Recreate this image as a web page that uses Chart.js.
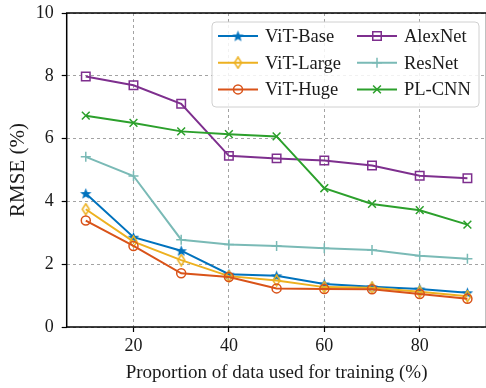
<!DOCTYPE html>
<html>
<head>
<meta charset="utf-8">
<script src="https://cdn.jsdelivr.net/npm/chart.js@4.4.1/dist/chart.umd.min.js"></script>
<style>
  html, body { margin: 0; padding: 0; background: #fff; overflow: hidden; }
  #wrap { width: 486px; height: 388px; overflow: hidden; }
</style>
</head>
<body>
<div id="wrap"><canvas id="chart" width="494" height="388"></canvas></div>
<script>
const proportions = [10, 20, 30, 40, 50, 60, 70, 80, 90];
const xTicks = [20, 40, 60, 80];
const yTicks = [0, 2, 4, 6, 8, 10];

const vitBase = [4.25, 2.86, 2.43, 1.68, 1.63, 1.37, 1.28, 1.21, 1.09];
const vitLarge = [3.75, 2.72, 2.13, 1.62, 1.48, 1.27, 1.25, 1.12, 0.98];
const vitHuge = [3.39, 2.58, 1.71, 1.59, 1.23, 1.21, 1.20, 1.05, 0.90];
const alexNet = [7.98, 7.70, 7.11, 5.45, 5.37, 5.30, 5.14, 4.82, 4.74];
const resNet = [5.42, 4.81, 2.78, 2.63, 2.58, 2.51, 2.45, 2.27, 2.17];
const plCnn = [6.73, 6.50, 6.23, 6.14, 6.07, 4.42, 3.92, 3.72, 3.26];

const FONT = "'Liberation Serif', 'Times New Roman', serif";

// small canvases used as point styles
const makeMarker = (size, draw) => {
    const c = document.createElement('canvas');
    c.width = size;
    c.height = size;
    draw(c.getContext('2d'), size);
    return c;
};

const starMarker = makeMarker(13, (ctx, s) => {
    const cx = s / 2, cy = s / 2 + 0.5, ro = 6, ri = 2.6;
    ctx.beginPath();
    for (let i = 0; i < 10; i++) {
        const r = i % 2 ? ri : ro;
        const a = -Math.PI / 2 + i * Math.PI / 5;
        ctx.lineTo(cx + r * Math.cos(a), cy + r * Math.sin(a));
    }
    ctx.closePath();
    ctx.fillStyle = '#0072BD';
    ctx.fill();
});

const diamondMarker = makeMarker(13, (ctx, s) => {
    const cx = s / 2, cy = s / 2;
    ctx.beginPath();
    ctx.moveTo(cx, cy - 5.5);
    ctx.lineTo(cx + 3.5, cy);
    ctx.lineTo(cx, cy + 5.5);
    ctx.lineTo(cx - 3.5, cy);
    ctx.closePath();
    ctx.strokeStyle = '#EDB120';
    ctx.lineWidth = 1.5;
    ctx.stroke();
});

const series = [
    { label: 'ViT-Base', data: vitBase, color: '#0072BD', style: starMarker, radius: 6 },
    { label: 'ViT-Large', data: vitLarge, color: '#EDB120', style: diamondMarker, radius: 6 },
    { label: 'ViT-Huge', data: vitHuge, color: '#D95319', style: 'circle', radius: 4.5 },
    { label: 'AlexNet', data: alexNet, color: '#7E2F8E', style: 'rect', radius: 6 },
    { label: 'ResNet', data: resNet, color: '#7ABAB6', style: 'cross', radius: 5 },
    { label: 'PL-CNN', data: plCnn, color: '#2CA02C', style: 'crossRot', radius: 5.5 },
];

const frameAndLegend = {
    id: 'frameAndLegend',
    afterDraw(chart) {
        const { ctx, chartArea: a } = chart;
        ctx.save();
        ctx.strokeStyle = '#000';
        ctx.lineWidth = 1.5;
        ctx.strokeRect(a.left, a.top, a.right - a.left, a.bottom - a.top);

        // legend box, two columns like the reference
        const bx = 212, by = 22, bw = 267, bh = 85;
        ctx.beginPath();
        ctx.roundRect(bx, by, bw, bh, 4);
        ctx.fillStyle = 'rgba(255,255,255,0.85)';
        ctx.fill();
        ctx.strokeStyle = '#d0d0d0';
        ctx.lineWidth = 1;
        ctx.stroke();

        ctx.font = `18.5px ${FONT}`;
        ctx.textBaseline = 'middle';
        chart.data.datasets.forEach((ds, i) => {
            const col = Math.floor(i / 3);
            const row = i % 3;
            const x0 = col ? 357 : 218;
            const y = 36 + row * 26.7;
            ctx.strokeStyle = ds.borderColor;
            ctx.lineWidth = 2;
            ctx.beginPath();
            ctx.moveTo(x0, y);
            ctx.lineTo(x0 + 40, y);
            ctx.stroke();
            ctx.fillStyle = 'rgba(0,0,0,0)';
            ctx.lineWidth = 1.5;
            Chart.helpers.drawPoint(ctx, {
                pointStyle: ds.pointStyle,
                radius: ds.pointRadius,
                borderWidth: 1.5,
                rotation: 0,
            }, x0 + 20, y);
            ctx.fillStyle = '#1a1a1a';
            ctx.fillText(ds.label, x0 + 47, y + 1);
        });
        ctx.restore();
    },
};

const gridStyle = {
    color: '#8c8c8c',
    lineWidth: 0.8,
    tickColor: '#000',
    tickLength: 5,
    tickWidth: 1.2,
};

new Chart(document.getElementById('chart'), {
    type: 'line',
    data: {
        datasets: series.map((s, i) => ({
            label: s.label,
            data: proportions.map((x, j) => ({ x, y: s.data[j] })),
            borderColor: s.color,
            backgroundColor: 'rgba(0,0,0,0)',
            borderWidth: 2,
            pointStyle: s.style,
            pointRadius: s.radius,
            pointBorderWidth: 1.5,
            pointBorderColor: s.color,
            pointBackgroundColor: 'rgba(0,0,0,0)',
            tension: 0,
            order: series.length - i,
        })),
    },
    options: {
        responsive: false,
        animation: false,
        layout: { padding: { top: 13, right: 5, left: 0, bottom: 0 } },
        plugins: { legend: { display: false }, tooltip: { enabled: false } },
        scales: {
            x: {
                type: 'linear',
                min: 6,
                max: 94,
                afterBuildTicks: (scale) => { scale.ticks = xTicks.map((value) => ({ value })); },
                afterFit: (scale) => {
                    scale.height = 61;
                    scale.paddingLeft = 0;
                    scale.paddingRight = 0;
                },
                ticks: { font: { family: FONT, size: 18 }, color: '#1a1a1a', padding: 3 },
                grid: gridStyle,
                border: { display: false, dash: [3, 3] },
                title: {
                    display: true,
                    text: 'Proportion of data used for training (%)',
                    font: { family: FONT, size: 19 },
                    color: '#1a1a1a',
                    padding: { top: 0, bottom: 4 },
                },
            },
            y: {
                min: 0,
                max: 10,
                afterBuildTicks: (scale) => { scale.ticks = yTicks.map((value) => ({ value })); },
                afterFit: (scale) => {
                    scale.width = 66.7;
                    scale.paddingTop = 0;
                    scale.paddingBottom = 0;
                },
                ticks: { font: { family: FONT, size: 18 }, color: '#1a1a1a', padding: 8 },
                grid: gridStyle,
                border: { display: false, dash: [3, 3] },
                title: {
                    display: true,
                    text: 'RMSE (%)',
                    font: { family: FONT, size: 21 },
                    color: '#1a1a1a',
                    padding: { top: 6, bottom: 0 },
                },
            },
        },
    },
    plugins: [frameAndLegend],
});
</script>
</body>
</html>
